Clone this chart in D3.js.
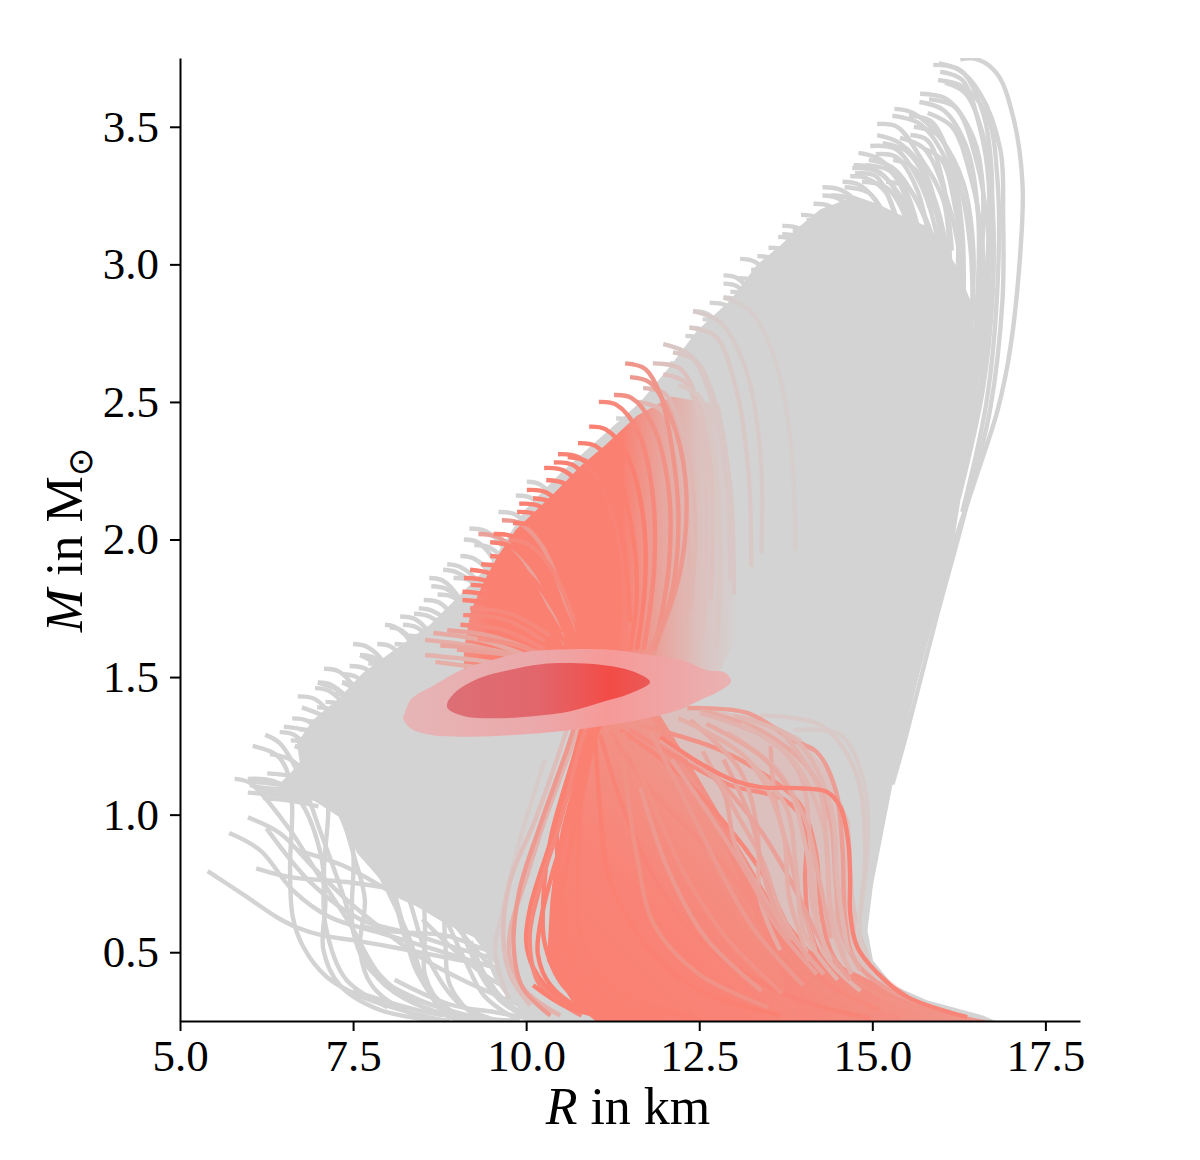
<!DOCTYPE html>
<html lang="en">
<head>
<meta charset="UTF-8">
<title>Mass-radius curves</title>
<style>
    body { margin: 0; background: #fff; }
    text { font-family: "Liberation Serif", serif; fill: #000; }
    .axis path, .axis line { stroke: #000; stroke-width: 2px; }
    .axis text { font-size: 45px; }
    .curve { fill: none; stroke-width: 4.4px; stroke-linecap: butt; stroke-linejoin: round; }
    .title { font-size: 52px; }
</style>
</head>
<body>
<div id="chart"></div>
<script src="https://d3js.org/d3.v7.min.js"></script>
<script>
// tick labels
const xTicks = [5, 7.5, 10, 12.5, 15, 17.5];
const yTicks = [0.5, 1, 1.5, 2, 2.5, 3, 3.5];

// solid part of the grey band, [R, M]
const greyBody = [[10.01,.25],[16.78,.25],[16.6,.27],[15.79,.325],[15.3,.38],[15.01,.47],[14.93,.58],[15.01,.744],[15.29,1.107],[15.51,1.336],[15.79,1.635],[16.13,1.92],[16.39,2.325],[16.5,2.6],[16.45,2.85],[16.2,3],[15.95,3.1],[15.77,3.14],[15.4,3.18],[15.07,3.22],[14.73,3.25],[14.57,3.23],[14.25,3.2],[13.96,3.14],[13.68,3.07],[13.34,3],[12.95,2.87],[12.47,2.76],[12.08,2.63],[11.65,2.5],[11.07,2.37],[10.49,2.24],[9.99,2.11],[9.48,1.91],[9.05,1.8],[8.61,1.69],[8.03,1.587],[7.64,1.515],[7.31,1.427],[6.92,1.344],[6.69,1.26],[6.73,1.187],[6.45,1.115],[6.45,1.064],[6.92,1.053],[7.31,.99],[7.56,.86],[8.03,.725],[8.86,.6],[9.33,.544],[9.58,.445],[9.81,.325]];

// separate grey curves at the top right
const greyTopCurves = [
    [[16.27,3.745],[16.52,3.745],[16.81,3.69],[17.04,3.53],[17.17,3.29],[17.14,3.05],[16.99,2.69],[16.81,2.47],[16.49,2.22],[16.06,1.89],[15.55,1.42],[15.22,1.11]],
    [[15.88,3.725],[16.23,3.71],[16.56,3.62],[16.85,3.416],[16.89,3.17],[16.88,2.87],[16.7,2.47],[16.34,2.1],[15.91,1.7],[15.48,1.28],[15.29,1.11]],
    [[15.95,3.67],[16.31,3.645],[16.66,3.54],[16.81,3.3],[16.81,2.93],[16.65,2.5],[16.3,2.1]],
    [[15.69,3.62],[16.08,3.6],[16.46,3.46],[16.59,3.3],[16.59,3.05],[16.52,2.7],[16.35,2.4]],
    [[15.68,3.59],[16.03,3.56],[16.37,3.42],[16.53,3.17],[16.5,2.81],[16.35,2.45]],
    [[15.32,3.565],[15.59,3.55],[15.98,3.46],[16.31,3.3],[16.46,3.05],[16.4,2.7]],
    [[15.29,3.54],[15.69,3.51],[16.08,3.37],[16.23,3.17],[16.2,2.81]],
    [[15.07,3.51],[15.36,3.5],[15.69,3.39],[16.03,3.23],[16.13,2.94]],
    [[15.07,3.47],[15.4,3.44],[15.77,3.33],[15.98,3.11],[16.05,2.8]],
    [[14.97,3.43],[15.33,3.42],[15.62,3.33],[15.91,3.13],[15.98,2.9]],
    [[14.8,3.405],[15.12,3.38],[15.48,3.27],[15.77,3.02]],
    [[14.71,3.35],[15.04,3.34],[15.4,3.25],[15.69,3.05]],
    [[15.53,3.54],[15.85,3.52],[16.15,3.36],[16.3,3.12],[16.32,2.9]],
    [[15.96,3.73],[16.3,3.7],[16.6,3.55],[16.72,3.35],[16.7,3],[16.55,2.6]],
    [[15.98,3.7],[16.3,3.67],[16.55,3.5],[16.68,3.3],[16.66,3],[16.5,2.6]],
    [[15.05,3.4],[15.35,3.39],[15.65,3.27],[15.85,3.05],[15.95,2.85]],
    [[14.9,3.36],[15.25,3.34],[15.55,3.2],[15.8,2.95]],
    [[15.2,3.3],[15.5,3.28],[15.8,3.15],[16,2.95]],
    [[14.75,3.33],[15.05,3.32],[15.3,3.2],[15.5,3]],
    [[15.55,3.47],[15.8,3.45],[16.02,3.3],[16.15,3.05]],
    [[15.3,3.38],[15.6,3.35],[15.9,3.2],[16.12,3]],
    [[15.75,3.42],[16,3.38],[16.2,3.2],[16.3,2.95]],
    [[16.05,3.66],[16.35,3.62],[16.62,3.45],[16.74,3.2],[16.74,2.9],[16.6,2.55],[16.25,2.15]],
    [[15.82,3.6],[16.2,3.57],[16.5,3.38],[16.66,3.15],[16.68,2.85],[16.55,2.55],[16.2,2.15]],
    [[15.8,3.55],[16.15,3.5],[16.42,3.32],[16.58,3.1],[16.6,2.8],[16.4,2.4]],
    [[15.6,3.5],[15.95,3.47],[16.28,3.27],[16.42,3.05],[16.45,2.8]],
    [[15.4,3.46],[15.75,3.42],[16.1,3.22],[16.28,3],[16.35,2.75]],
    [[15.15,3.44],[15.5,3.41],[15.88,3.25],[16.1,3.02],[16.18,2.8]],
    [[14.95,3.38],[15.3,3.35],[15.7,3.2],[15.95,3],[16.02,2.8]],
    [[14.85,3.3],[15.2,3.28],[15.52,3.15],[15.75,2.95]],
    [[14.6,3.28],[14.95,3.26],[15.25,3.14],[15.45,2.95]]
];

// short arcs that stick out of the solid band along its left edge
const greyTipCurves = [
    [[14.73,3.36],[14.95,3.355],[15.25,3.3],[15.5,3.15],[15.65,2.95]],
    [[14.68,3.32],[14.9,3.315],[15.2,3.26],[15.4,3.12],[15.55,2.93]],
    [[14.57,3.3],[14.8,3.29],[15.05,3.23],[15.28,3.08],[15.4,2.9]],
    [[14.28,3.28],[14.55,3.27],[14.85,3.2],[15.08,3.03],[15.2,2.85]],
    [[14.28,3.25],[14.5,3.24],[14.8,3.17],[15,3],[15.1,2.85]],
    [[14.15,3.22],[14.4,3.21],[14.65,3.14],[14.85,3],[15,2.8]],
    [[13.97,3.18],[14.2,3.17],[14.5,3.09],[14.7,2.95],[14.8,2.8]],
    [[13.7,3.14],[13.95,3.13],[14.25,3.05],[14.45,2.9]],
    [[13.7,3.11],[13.92,3.1],[14.2,3.02],[14.35,2.9]],
    [[13.64,3.1],[13.85,3.09],[14.1,3.02],[14.3,2.88]],
    [[13.5,3.06],[13.75,3.05],[14,2.97],[14.2,2.82]],
    [[13.09,3.02],[13.3,3.01],[13.6,2.93],[13.8,2.78]],
    [[13.34,3.03],[13.55,3.02],[13.85,2.93],[14,2.8]],
    [[12.85,2.96],[13.05,2.95],[13.3,2.87],[13.5,2.73]],
    [[12.85,2.93],[13.05,2.92],[13.3,2.84],[13.5,2.7]],
    [[12.85,2.88],[13.05,2.87],[13.3,2.79],[13.5,2.65]],
    [[12.41,2.83],[12.62,2.82],[12.9,2.74],[13.1,2.6]],
    [[12.36,2.77],[12.57,2.76],[12.85,2.68],[13.05,2.54]],
    [[12.3,2.74],[12.5,2.73],[12.78,2.65],[12.95,2.5]],
    [[10.01,2.21],[10.2,2.2],[10.48,2.12],[10.65,2]],
    [[9.1,2],[9.3,1.99],[9.55,1.92],[9.75,1.8]],
    [[9.05,1.94],[9.25,1.93],[9.5,1.87],[9.7,1.75]],
    [[8.86,1.91],[9.05,1.9],[9.32,1.84],[9.5,1.72]],
    [[8.8,1.89],[9,1.88],[9.3,1.82],[9.5,1.7]],
    [[8.6,1.86],[8.8,1.85],[9.05,1.78],[9.25,1.66]],
    [[8.63,1.83],[8.85,1.82],[9.1,1.76],[9.3,1.63]],
    [[8.45,1.75],[8.65,1.74],[8.95,1.68],[9.15,1.56]],
    [[8.38,1.73],[8.6,1.72],[8.9,1.66],[9.1,1.54]],
    [[8.22,1.69],[8.42,1.68],[8.7,1.61],[8.9,1.49]],
    [[8.03,1.68],[8.2,1.67],[8.42,1.6],[8.55,1.47]],
    [[7.96,1.69],[8.12,1.68],[8.35,1.62],[8.5,1.5]],
    [[7.6,1.58],[7.8,1.57],[8.08,1.5],[8.25,1.38]],
    [[7.72,1.55],[7.92,1.54],[8.2,1.48],[8.4,1.36]],
    [[7.34,1.51],[7.55,1.5],[7.82,1.43],[8,1.3]],
    [[7.34,1.48],[7.55,1.47],[7.82,1.4],[8,1.28]],
    [[6.95,1.46],[7.15,1.45],[7.42,1.38],[7.6,1.25]],
    [[6.99,1.48],[7.2,1.47],[7.48,1.4],[7.65,1.27]],
    [[6.98,1.39],[7.2,1.38],[7.48,1.31],[7.65,1.18]],
    [[6.85,1.34],[7.05,1.33],[7.3,1.26],[7.5,1.14]],
    [[6.44,1.3],[6.65,1.29],[6.92,1.21],[7.1,1.08]],
    [[7.08,1.53],[7.3,1.52],[7.55,1.45],[7.75,1.32]],
    [[6.7,1.43],[6.95,1.42],[7.2,1.35],[7.4,1.22]],
    [[6.62,1.35],[6.85,1.34],[7.1,1.27],[7.3,1.15]],
    [[6.3,1.22],[6.6,1.2],[6.9,1.13],[7.15,1.05]],
    [[6.6,1.12],[6.95,1.1],[7.3,1.04],[7.6,.95]],
    [[7.5,1.62],[7.7,1.61],[7.95,1.55],[8.1,1.45]],
    [[8.18,1.72],[8.4,1.71],[8.65,1.64],[8.8,1.52]],
    [[14.4,3.25],[14.65,3.24],[14.95,3.15],[15.1,3]],
    [[14.05,3.16],[14.3,3.15],[14.6,3.07],[14.8,2.92]],
    [[13.85,3.12],[14.1,3.11],[14.4,3.02],[14.55,2.9]],
    [[13.45,3.02],[13.7,3.01],[14,2.92],[14.15,2.8]],
    [[13.25,2.98],[13.5,2.97],[13.8,2.88],[13.95,2.75]],
    [[13.05,2.95],[13.3,2.94],[13.6,2.85],[13.75,2.72]],
    [[12.95,2.9],[13.2,2.89],[13.48,2.8],[13.65,2.66]],
    [[12.65,2.86],[12.9,2.85],[13.2,2.76],[13.35,2.62]],
    [[12.55,2.8],[12.8,2.79],[13.08,2.7],[13.25,2.56]],
    [[12.2,2.68],[12.45,2.67],[12.75,2.58],[12.9,2.44]],
    [[12.08,2.64],[12.32,2.63],[12.6,2.54],[12.75,2.4]],
    [[11.95,2.58],[12.2,2.57],[12.48,2.48],[12.6,2.35]],
    [[11.65,2.5],[11.9,2.49],[12.2,2.4],[12.35,2.25]],
    [[11.3,2.44],[11.55,2.43],[11.85,2.33],[12,2.2]],
    [[9.85,2.16],[10.08,2.15],[10.35,2.07],[10.5,1.95]],
    [[9.6,2.1],[9.85,2.09],[10.1,2.02],[10.3,1.9]],
    [[9.25,1.98],[9.48,1.97],[9.75,1.9],[9.95,1.78]],
    [[9.18,2.04],[9.42,2.03],[9.7,1.96],[9.85,1.84]],
    [[8.95,1.86],[9.2,1.85],[9.45,1.78],[9.65,1.66]],
    [[8.72,1.8],[8.95,1.79],[9.2,1.72],[9.4,1.6]],
    [[8.52,1.78],[8.75,1.77],[9,1.7],[9.2,1.58]],
    [[8.3,1.65],[8.52,1.64],[8.8,1.57],[8.95,1.46]],
    [[8.1,1.62],[8.32,1.61],[8.58,1.54],[8.75,1.42]],
    [[7.85,1.62],[8.05,1.61],[8.3,1.54],[8.45,1.42]],
    [[7.45,1.54],[7.68,1.53],[7.95,1.46],[8.1,1.34]],
    [[7.2,1.44],[7.42,1.43],[7.7,1.36],[7.85,1.24]],
    [[7.1,1.41],[7.32,1.4],[7.6,1.33],[7.75,1.21]],
    [[6.72,1.31],[6.95,1.3],[7.2,1.23],[7.4,1.12]],
    [[6.6,1.27],[6.82,1.26],[7.1,1.19],[7.3,1.08]],
    [[5.98,1.08],[6.4,1.07],[6.9,1.05]],
    [[6.1,1.1],[6.5,1.09],[7,1.07]],
    [[6.2,1.06],[6.6,1.05],[7,1.03]],
    [[6,1.12],[6.4,1.11],[6.9,1.08]]
];

// long grey curves in the sparse lower left part
const greySparseCurves = [
    [[5.4,.795],[5.97,.7],[6.4,.627],[6.69,.59],[7.07,.56],[7.5,.544],[8.08,.518],[8.86,.48],[9.58,.445],[10.49,.38]],
    [[6.05,1.25],[6.4,1.216],[6.56,1.15],[6.62,1.03],[6.59,.81],[6.63,.627],[6.78,.52],[7.12,.41],[7.64,.336],[8.37,.278],[8.86,.25]],
    [[6.23,1.29],[6.44,1.26],[6.73,1.14],[7.02,.944],[7.38,.69],[7.6,.507],[7.96,.38],[8.61,.29],[9.48,.25]],
    [[5.98,.99],[6.44,.933],[6.92,.81],[7.41,.69],[7.99,.57],[8.47,.482],[9.09,.398],[9.91,.307]],
    [[5.71,.933],[6.16,.87],[6.63,.725],[7.17,.627],[7.89,.57],[8.86,.496],[9.91,.416]],
    [[6.1,.805],[6.59,.773],[7.41,.755],[8.37,.715],[9.09,.664],[9.91,.598]],
    [[5.79,1.13],[6.01,1.115],[6.59,.944],[6.95,.8],[7.46,.6],[7.89,.416],[8.47,.307],[9.19,.25]],
    [[5.98,1.13],[6.37,1.12],[6.73,1.05],[7.02,.87],[7.1,.69],[7.07,.51],[7.31,.38],[7.89,.29],[8.76,.25]],
    [[6.26,1.15],[6.73,1.13],[7.24,1.03],[7.53,.835],[7.67,.69],[7.6,.51],[7.77,.38],[8.32,.28],[8.9,.25]],
    [[6.66,1.25],[7.02,1.2],[7.31,1.09],[7.5,.87],[7.5,.58],[7.75,.435],[8.47,.325],[9.48,.25]],
    [[6.99,1.48],[7.38,1.435],[7.75,1.27],[8,.944],[8.11,.69],[8.47,.416],[8.9,.29],[9.33,.25]],
    [[7.34,1.48],[7.75,1.416],[8.18,1.16],[8.47,.835],[8.54,.58],[8.54,.416],[8.83,.29],[9.12,.25]],
    [[7.6,1.58],[8.03,1.507],[8.4,1.27],[8.76,.87],[8.83,.544],[8.9,.38],[9.26,.27],[9.62,.25]],
    [[6.76,1.39],[7.31,1.325],[7.89,1.16],[8.47,.944],[9.19,.69],[9.77,.507],[10.49,.325]],
    [[6.5,1.32],[7.02,1.29],[7.67,1.144],[8.25,.925],[8.9,.69],[9.55,.47],[10.2,.307]],
    [[6.66,1.25],[7.24,1.18],[7.82,1.016],[8.4,.8],[8.97,.6],[9.62,.416],[10.35,.27]],
    [[6.01,1.107],[6.73,1.07],[7.46,1.053],[8.18,.944],[8.9,.76],[9.62,.58],[10.35,.4]],
    [[6.18,1.09],[7.02,1.053],[7.75,1],[8.47,.835],[9.33,.616],[10.06,.435]],
    [[6.3,1.12],[7.1,1.08],[7.7,1.05],[8.3,.93],[9,.72],[9.7,.5]],
    [[6.73,1.19],[7.1,1.09],[7.08,.8],[7.1,.6],[7.4,.4],[8,.3]],
    [[6.7,.87],[7.4,.81],[8.2,.7],[9,.62],[9.8,.55]],
    [[6.25,.95],[6.9,.75],[7.6,.62],[8.3,.57],[9.2,.5],[10,.45]],
    [[7.6,.595],[8.1,.575],[8.85,.56],[9.4,.51],[10,.47]],
    [[7.05,1.17],[7.5,.97],[7.95,.75],[8.3,.56],[8.55,.38],[8.85,.27],[9.2,.25]],
    [[7.45,1.22],[7.9,.98],[8.3,.7],[8.6,.47],[9.05,.31],[9.6,.25]],
    [[8,1.3],[8.35,1.02],[8.8,.75],[9.2,.5],[9.6,.33],[10.1,.25]],
    [[7.55,1.33],[8.1,1.12],[8.7,.92],[9.3,.72],[9.8,.44],[10.2,.28]],
    [[9.2,.54],[9.4,.42],[9.75,.31],[10.2,.25]],
    [[9.45,.62],[9.5,.45],[9.8,.33],[10.3,.25]],
    [[8.1,.4],[8.9,.31],[9.6,.28],[10.2,.25]],
    [[7.5,.36],[8.6,.28],[9.3,.26],[9.9,.25]],
    [[8.3,.82],[8.75,.66],[9.1,.48],[9.4,.34],[9.9,.25]],
    [[8.9,.72],[9.2,.5],[9.5,.36],[10,.27]],
    [[8.5,.62],[9,.5],[9.5,.4],[10.1,.33]],
    [[7.9,.9],[8.2,.62],[8.4,.44],[8.75,.3]]
];

// pale curves that fade into the grey around the red fan
const paleCurves = [
    [[13.86,1.307],[14.54,1.29],[14.87,1.125],[14.93,.88],[14.75,.52]],
    [[13.38,1.36],[14.25,1.325],[14.75,1.16],[14.9,.87],[14.83,.544],[15.1,.4]],
    [[10.27,1.2],[9.91,.907],[9.67,.66],[9.55,.5],[9.75,.33]],
    [[12.85,2.88],[13.24,2.83],[13.6,2.65],[13.82,2.36],[13.89,1.96]],
    [[12.41,2.83],[12.8,2.79],[13.17,2.62],[13.38,2.325],[13.4,1.95]],
    [[12.36,2.77],[12.73,2.74],[13.02,2.56],[13.21,2.25],[13.25,1.9]],
    [[11.98,2.71],[12.37,2.67],[12.66,2.525],[12.88,2.25],[12.95,1.85]],
    [[12.12,2.68],[12.45,2.65],[12.75,2.48],[12.95,2.18],[13,1.8]],
    [[11.83,2.64],[12.23,2.62],[12.51,2.47],[12.69,2.18],[12.66,1.78]],
    [[11.69,2.55],[12,2.53],[12.3,2.36],[12.44,2.07],[12.37,1.74]],
    [[11.6,2.5],[11.95,2.47],[12.2,2.3],[12.35,2],[12.3,1.7]],
    [[11.98,2.6],[12.3,2.57],[12.55,2.38],[12.6,2],[12.55,1.65]],
    [[12.2,2.56],[12.5,2.52],[12.7,2.32],[12.8,1.95],[12.75,1.6]]
];
const paleWeights = [.1, .12, .1, .06, .1, .12, .14, .14, .22, .32, .35, .22, .15];

// solid red areas above and below the contours
const redUpperBody = [[9.1,1.6],[9.2,1.74],[9.4,1.853],[9.6,1.944],[9.85,2.035],[10.15,2.107],[10.45,2.18],[10.8,2.27],[11.15,2.344],[11.6,2.45],[12.1,2.52],[12.8,2.49],[13.02,2.14],[13.02,1.63],[12.73,1.49],[9.1,1.49]];
const redLowerBody = [[10.95,1.36],[10.5,.944],[10.35,.69],[10.3,.47],[10.65,.325],[11,.25],[16.71,.25],[16.27,.27],[15.4,.344],[14.83,.416],[14.1,.507],[13.53,.689],[13.02,.907],[12.51,1.125],[11.94,1.36]];
const redLowerFringe = [[11.65,1.4],[12.51,1.39],[13.38,1.35],[13.96,1.28],[14.39,1.15],[14.68,.97],[14.73,.72],[14.8,.6],[15,.45],[15.6,.33],[16.6,.25],[13.96,.25],[12.51,1.1]];

// red arcs of the upper fan
const upperCurves = [
    [[11.5,2.59],[11.79,2.57],[12.08,2.45],[12.3,2.22],[12.23,1.89],[11.79,1.56]],
    [[11.27,2.525],[11.52,2.515],[11.82,2.42],[12.05,2.2],[12.06,1.9],[11.85,1.6]],
    [[11.05,2.5],[11.3,2.49],[11.62,2.39],[11.82,2.18],[11.85,1.9],[11.7,1.6]],
    [[10.91,2.41],[11.15,2.4],[11.45,2.31],[11.68,2.1],[11.72,1.85],[11.6,1.6]],
    [[10.75,2.35],[11,2.34],[11.3,2.25],[11.52,2.05],[11.6,1.8],[11.5,1.6]],
    [[10.46,2.31],[10.75,2.3],[11.08,2.21],[11.33,2.02],[11.42,1.78],[11.38,1.6]],
    [[10.26,2.26],[10.55,2.25],[10.88,2.16],[11.12,1.98],[11.24,1.75],[11.24,1.6]],
    [[10.4,2.28],[10.68,2.27],[11,2.17],[11.25,1.98],[11.36,1.72]],
    [[10.29,2.216],[10.58,2.2],[10.9,2.1],[11.12,1.9],[11.21,1.63]],
    [[10.01,2.18],[10.3,2.17],[10.65,2.07],[10.92,1.9],[11.07,1.7]],
    [[9.9,2.13],[10.2,2.12],[10.52,2.03],[10.8,1.85],[10.95,1.65]],
    [[9.87,2.1],[10.15,2.09],[10.48,2],[10.75,1.82],[10.92,1.64]],
    [[9.65,2.07],[9.9,2.06],[10.22,1.98],[10.5,1.82],[10.71,1.64]],
    [[9.81,2.06],[10.08,2.05],[10.42,1.96],[10.7,1.8],[10.9,1.63]],
    [[9.31,2.02],[9.58,2.01],[9.92,1.94],[10.25,1.8],[10.56,1.62]],
    [[9.53,2.02],[9.82,2.01],[10.15,1.93],[10.48,1.78],[10.78,1.6]],
    [[9.48,1.99],[9.78,1.975],[10.12,1.89],[10.42,1.76],[10.71,1.6]],
    [[9.48,1.94],[9.78,1.925],[10.12,1.85],[10.42,1.74],[10.71,1.6]],
    [[9.19,1.89],[9.5,1.875],[9.9,1.81],[10.3,1.71],[10.71,1.58]],
    [[9.1,1.86],[9.42,1.85],[9.82,1.78],[10.22,1.69],[10.64,1.57]],
    [[9.08,1.81],[9.4,1.8],[9.8,1.75],[10.2,1.67],[10.64,1.55]],
    [[9.08,1.78],[9.4,1.77],[9.85,1.72],[10.27,1.65],[10.71,1.53]],
    [[9.19,1.75],[9.77,1.73],[10.35,1.65]],
    [[9.09,1.725],[9.68,1.71],[10.27,1.63]],
    [[9.05,1.69],[9.68,1.67],[10.27,1.6]],
    [[8.86,1.67],[9.48,1.65],[10.06,1.6]],
    [[8.66,1.66],[9.33,1.635],[9.99,1.58]],
    [[8.54,1.635],[9.19,1.615],[9.8,1.58]],
    [[8.76,1.615],[9.48,1.6],[10,1.57]],
    [[8.54,1.58],[9.33,1.56],[9.9,1.54]],
    [[8.69,1.555],[9.48,1.53],[9.9,1.52]],
    [[9.3,1.64],[9.8,1.62],[10.3,1.58]],
    [[9,1.6],[9.6,1.585],[10.2,1.56]],
    [[9.2,1.835],[9.6,1.82],[10.1,1.74],[10.5,1.62]],
    [[9.35,1.91],[9.7,1.895],[10.1,1.81],[10.5,1.66]],
    [[9.75,2],[10.05,1.98],[10.4,1.88],[10.7,1.7]],
    [[10.1,2.15],[10.42,2.13],[10.75,2.02],[11,1.83]],
    [[10.6,2.3],[10.9,2.28],[11.2,2.16],[11.42,1.95],[11.5,1.7]],
    [[11.43,2.64],[11.72,2.62],[11.94,2.525],[12.11,2.325],[12.2,2.07],[12.08,1.78],[11.65,1.525]]
];
const upperWeights = [.7, .8, .9, 1, 1, .95, 1, 1, 1, 1, 1, 1, .7, 1, .6, 1, 1, 1, 1, 1, 1, 1, .9, .9, .9, .6, .5, .45, .55, .4, .45, .8, .6, 1, 1, .9, 1, 1, .75];

// red curves below the contours, the brightest right hand one last
const lowerCurves = [
    [[11,1.38],[10.81,1.245],[10.59,1.064],[10.3,.86],[10.06,.664],[10,.544],[10.1,.445],[10.45,.336],[11.07,.264],[11.7,.25]],
    [[11.1,1.38],[10.92,1.25],[10.66,1.016],[10.37,.78],[10.2,.6],[10.17,.49],[10.35,.38],[10.92,.28],[11.79,.25]],
    [[11.12,1.38],[10.95,1.235],[10.71,.944],[10.49,.725],[10.39,.56],[10.49,.435],[10.92,.325],[11.79,.25]],
    [[10.8,1.36],[10.64,1.235],[10.27,.98],[9.99,.76],[9.77,.58],[9.77,.47],[9.99,.36],[10.49,.27]],
    [[10.65,1.36],[10.49,1.235],[10.13,.98],[9.77,.76],[9.67,.56],[9.77,.416],[10.06,.307]],
    [[12.33,1.387],[13.19,1.37],[13.86,1.27],[14.2,1.227],[14.47,1.09],[14.57,.87],[14.61,.616],[14.75,.47],[15.26,.36],[16.13,.28]],
    [[11.65,1.325],[12.8,1.235],[13.45,1.144],[13.96,1.035],[14.18,.87],[14.28,.616],[14.47,.47],[14.97,.36],[15.84,.278]],
    [[11.5,1.307],[12.23,1.2],[12.95,1.107],[13.74,1.053],[14.03,.96],[14.03,.76],[14.1,.58],[14.39,.435],[15.11,.325]],
    [[11.36,1.307],[12.23,1.144],[13.38,.8],[13.67,.65],[13.96,.507],[14.39,.38],[15.11,.29]],
    [[11.21,1.307],[11.79,1.09],[12.51,.907],[13.24,.689],[13.82,.47],[14.54,.325],[15.4,.26]],
    [[11.07,1.29],[11.36,1.053],[11.79,.8],[12.37,.58],[13.09,.435],[13.96,.325],[14.97,.26]],
    [[11,1.27],[11.07,1.016],[11.21,.76],[11.79,.507],[12.51,.36],[13.67,.27]],
    [[12.51,1.38],[13.38,1.307],[14.1,1.16],[14.39,.98],[14.47,.76],[14.54,.58],[14.83,.435]],
    [[12.51,1.37],[13.53,1.27],[13.96,1.144],[14.1,.907],[14.18,.69],[14.32,.49],[14.83,.36]],
    [[12.37,1.344],[13.09,1.16],[13.34,.944],[13.38,.69],[13.67,.507]],
    [[13.53,1.25],[13.6,1.053],[13.82,.835],[13.96,.69],[14.18,.507]],
    [[11.94,1.27],[12.8,1.107],[13.02,.89],[13.38,.725],[13.82,.544]],
    [[12.73,1.144],[13.38,.944],[13.82,.76],[14.25,.544],[14.68,.4]],
    [[12.9,1.3],[13.7,1.14],[14.05,.87],[14.15,.65],[14.4,.47]],
    [[13.1,1.33],[13.85,1.2],[14.3,.95],[14.38,.7],[14.6,.48]],
    [[12.2,1.35],[13.2,1.2],[13.7,.95],[13.8,.7],[14.05,.5]],
    [[12.1,1.2],[12.7,.98],[13.2,.78],[13.6,.6],[14.2,.42]],
    [[11.8,1.3],[12.4,1],[12.9,.75],[13.3,.58],[14,.38]],
    [[11.4,1.3],[11.9,1],[12.3,.78],[12.9,.55],[13.7,.35]],
    [[10.9,1.36],[10.75,1.25],[10.45,.95],[10.55,.65],[10.7,.48],[11.2,.33],[12,.26]],
    [[11,1.36],[10.85,1.2],[10.75,.8],[10.8,.55],[11.1,.4],[11.8,.3],[12.6,.25]],
    [[10.85,1.36],[10.7,1.22],[10.36,.92],[10.25,.7],[10.28,.52],[10.6,.36],[11.3,.27]],
    [[11.05,1.37],[10.88,1.25],[10.55,.95],[10.4,.72],[10.42,.52],[10.72,.36],[11.5,.26]],
    [[11.15,1.37],[10.98,1.27],[10.65,.92],[10.52,.68],[10.62,.47],[11,.33],[11.9,.26]],
    [[10.95,1.37],[10.78,1.25],[10.5,.98],[10.18,.72],[10.05,.55],[10.2,.38],[10.8,.27]],
    [[10.75,1.36],[10.58,1.23],[10.2,.96],[9.9,.72],[9.82,.52],[9.95,.37],[10.35,.27]],
    [[10.1,.38],[10.6,.3],[11.3,.26]],
    [[10.9,.42],[11.5,.33],[12.4,.27]],
    [[11.4,1.2],[11.6,.85],[11.85,.6],[12.5,.42],[13.5,.3]],
    [[11.65,1.1],[12.05,.8],[12.6,.55],[13.4,.36]],
    [[12.55,1.23],[13.05,1],[13.42,.83],[13.7,.63],[14.1,.47]],
    [[12.85,1.2],[13.25,.98],[13.5,.72],[13.72,.6],[14.3,.42]],
    [[13.2,1.2],[13.75,1.03],[13.9,.8],[14.02,.57],[14.5,.4]],
    [[13.7,1.3],[14.22,1.1],[14.35,.85],[14.42,.6],[14.7,.42]],
    [[12.6,1.33],[13.45,1.2],[14,1],[14.22,.78],[14.4,.55]],
    [[13,1.36],[13.9,1.27],[14.4,1.03],[14.5,.75],[14.65,.5]],
    [[16.37,.264],[15.51,.337],[15.07,.425],[14.78,.52],[14.68,.644],[14.68,.762],[14.65,.907],[14.54,1.027],[14.35,1.082],[13.96,1.096],[13.38,1.1],[12.99,1.125],[12.51,1.187],[11.94,1.282]]
];
const lowerWeights = [1, 1, 1, .4, .25, .65, .8, .85, .9, .85, .95, 1, .5, .4, .5, .5, .55, .6, .4, .35, .45, .6, .7, .8, 1, 1, 1, 1, 1, .9, .7, 1, 1, .78, .7, .5, .55, .42, .4, .5, .35, .95];

// outlines of the two contours
const contourOuter = [[8.24,1.364],[8.34,1.42],[8.67,1.47],[9.05,1.525],[9.48,1.56],[9.96,1.59],[10.45,1.6],[11.17,1.6],[11.79,1.58],[12.27,1.56],[12.61,1.525],[12.87,1.517],[12.96,1.485],[12.8,1.45],[12.51,1.416],[12.27,1.387],[11.79,1.353],[11.17,1.325],[10.53,1.304],[9.87,1.29],[9.19,1.283],[8.61,1.29],[8.32,1.316],[8.22,1.353]];
const contourInner = [[8.86,1.405],[9,1.45],[9.31,1.495],[9.74,1.525],[10.22,1.547],[10.74,1.55],[11.21,1.54],[11.6,1.515],[11.79,1.482],[11.5,1.44],[11.11,1.41],[10.64,1.376],[10.1,1.358],[9.53,1.35],[9.11,1.358],[8.87,1.385]];

const margin = { top: 58, right: 120, bottom: 139, left: 180 };
const width = 1200 - margin.left - margin.right;
const height = 1160 - margin.top - margin.bottom;

const svg = d3.select("#chart").append("svg")
    .attr("width", 1200)
    .attr("height", 1160);
const defs = svg.append("defs");
const g = svg.append("g").attr("transform", `translate(${margin.left},${margin.top})`);

const x = d3.scaleLinear().domain([5, 18]).range([0, width]);
const y = d3.scaleLinear().domain([0.25, 3.75]).range([height, 0]);

const tint = d3.scaleLinear().domain([0, 1]).range(["#d3d3d3", "#fa8072"]);
const line = d3.line().x(d => x(d[0])).y(d => y(d[1])).curve(d3.curveCatmullRom);
const area = d3.line().x(d => x(d[0])).y(d => y(d[1]));
const contour = d3.line().x(d => x(d[0])).y(d => y(d[1])).curve(d3.curveCatmullRomClosed);

defs.append("clipPath").attr("id", "plot").append("rect")
    .attr("width", width).attr("height", height);

function gradient(id, x1, y1, x2, y2, stops) {
    const gr = defs.append("linearGradient").attr("id", id)
        .attr("gradientUnits", "userSpaceOnUse")
        .attr("x1", x1).attr("y1", y1).attr("x2", x2).attr("y2", y2);
    stops.forEach(s => gr.append("stop")
        .attr("offset", s[0]).attr("stop-color", s[1]).attr("stop-opacity", s[2]));
}

gradient("upperFade", x(9), 0, x(13.1), 0, [[0, "#fa8072", .8], [.12, "#fa8072", 1], [.58, "#fa8072", 1], [.72, "#fa8072", .55], [.87, "#fa8072", .18], [1, "#fa8072", 0]]);
gradient("lowerFade", x(10.5), y(.25), x(14.7), y(1.24), [[0, "#fa8072", 1], [.35, "#fa8072", .96], [.7, "#fa8072", .72], [1, "#fa8072", .4]]);
gradient("outerFill", x(8.2), 0, x(13), 0, [[0, "#e6b5b6", 1], [.4, "#eba9ab", 1], [.62, "#f69a98", 1], [.78, "#f0a3a3", 1], [1, "#e9b3b3", 1]]);
gradient("innerFill", x(8.85), 0, x(11.8), 0, [[0, "#dd6f76", 1], [.45, "#e2666b", 1], [.8, "#f34c47", 1], [1, "#ea5a58", 1]]);

const plot = g.append("g").attr("clip-path", "url(#plot)");

plot.append("path").attr("d", area(greyBody) + "Z").attr("fill", "#d3d3d3");

[greySparseCurves, greyTopCurves, greyTipCurves].forEach(set => {
    plot.append("g").selectAll("path").data(set).enter().append("path")
        .attr("class", "curve")
        .attr("d", line)
        .attr("stroke", "#d3d3d3");
});

plot.append("path").attr("d", area(redUpperBody) + "Z").attr("fill", "url(#upperFade)");
plot.append("path").attr("d", area(redLowerFringe) + "Z").attr("fill", "#fa8072").attr("fill-opacity", .22);
plot.append("path").attr("d", area(redLowerBody) + "Z").attr("fill", "url(#lowerFade)");

function drawCurves(curves, weights) {
    plot.append("g").selectAll("path").data(curves).enter().append("path")
        .attr("class", "curve")
        .attr("d", line)
        .attr("stroke", (d, i) => tint(weights[i]));
}
drawCurves(paleCurves, paleWeights);
drawCurves(upperCurves, upperWeights);
drawCurves(lowerCurves, lowerWeights);

plot.append("path").attr("d", contour(contourOuter)).attr("fill", "url(#outerFill)");
plot.append("path").attr("d", contour(contourInner)).attr("fill", "url(#innerFill)");

// Axes
g.append("g").attr("class", "axis")
    .attr("transform", `translate(0,${height})`)
    .call(d3.axisBottom(x).tickValues(xTicks).tickFormat(d3.format(".1f")).tickSize(10).tickSizeOuter(0).tickPadding(8));
g.append("g").attr("class", "axis")
    .call(d3.axisLeft(y).tickValues(yTicks).tickFormat(d3.format(".1f")).tickSize(10).tickSizeOuter(0).tickPadding(11));

// Titles
const xTitle = svg.append("text").attr("class", "title")
    .attr("x", 628).attr("y", 1124).attr("text-anchor", "middle");
xTitle.append("tspan").attr("font-style", "italic").text("R");
xTitle.append("tspan").text(" in km");

const yTitle = svg.append("text").attr("class", "title")
    .attr("transform", "translate(82,540) rotate(-90)").attr("text-anchor", "middle");
yTitle.append("tspan").attr("font-style", "italic").text("M");
yTitle.append("tspan").text(" in M");
yTitle.append("tspan").attr("dy", 10).attr("font-size", 34).style("font-family", "'DejaVu Sans'").text("\u2299");
</script>
</body>
</html>
